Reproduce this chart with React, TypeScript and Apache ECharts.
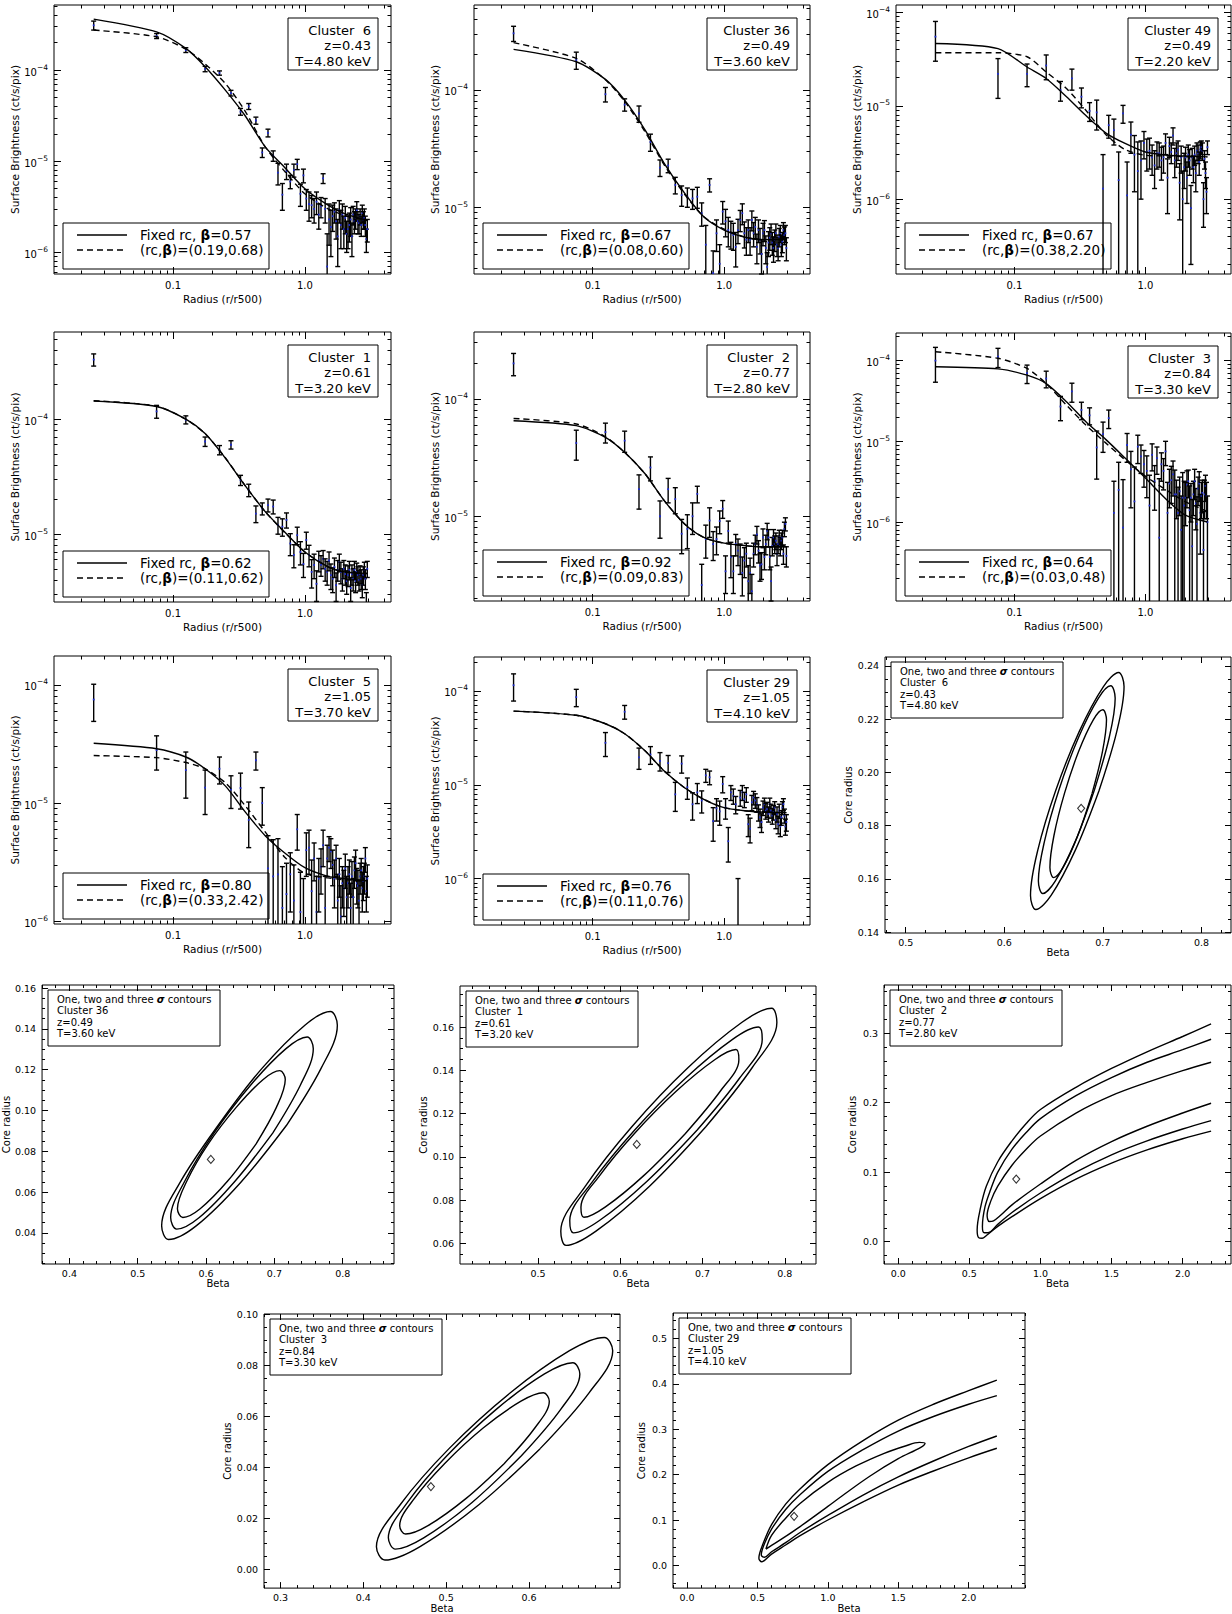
import React, { useEffect, useRef } from "react";
import * as echarts from "echarts";

const FONT = "'DejaVu Sans', 'Liberation Sans', Arial, sans-serif";

// ---------- surface brightness profiles (values in units of 1e-6 ct/s/pix) ----------
const RADII = [0.025,0.075,0.125,0.175,0.225,0.275,0.325,0.375,0.425,0.475,0.525,0.575,0.625,0.675,0.725,0.775,0.825,0.875,0.925,0.975,1.025,1.075,1.125,1.175,1.225,1.275,1.325,1.375,1.425,1.475,1.525,1.575,1.625,1.675,1.725,1.775,1.825,1.875,1.925,1.975,2.025,2.075,2.125,2.175,2.225,2.275,2.325,2.375,2.425,2.475,2.525,2.575,2.625,2.675,2.725,2.775,2.825,2.875,2.925,2.975];
const MODEL_R = [0.025,0.075,0.125,0.175,0.25,0.35,0.5,0.7,1.0,1.5,2.0,2.975];
const SB_X_RANGE = [0.0125, 4.5];

const C6_SB = [310,237,166,103,93,56,35,40,28,12.5,20.5,11.5,7.5,4.3,7.8,6.0,8.0,9.3,4.4,7.0,3.9,3.4,3.3,3.0,3.6,2.6,3.2,6.5,3.0,0.7,2.3,1.9,2.5,2.8,2.2,1.5,2.9,2.0,2.6,1.8,2.4,1.6,1.8,2.0,2.3,1.5,2.6,2.2,2.4,2.9,2.2,2.1,2.5,2.0,2.7,2.3,2.4,2.0,1.4,1.8];
const C6_ERR = [35,15,10,7,5,4,3,3,2.5,1.5,2,1.5,2,1.4,1.5,1,1.3,1.2,1.2,1.2,1.0,1.2,0.9,0.9,1.0,0.8,0.8,0.8,0.9,0.9,1.1,1.0,0.8,0.7,0.8,0.8,0.8,0.9,0.8,0.7,0.8,0.6,0.7,0.7,0.8,0.6,0.6,0.6,0.6,0.7,0.6,0.5,0.5,0.5,0.6,0.5,0.6,0.5,0.4,0.5];
const C6_FIXED = [363,263,173,109,60,32,14.4,8.6,5.0,3.3,2.66,2.24];
const C6_FREE = [275,232,170,117,71,36,14.4,7.8,4.4,3.0,2.55,2.24];

const C36_SB = [304,180,92,75,63,36,21.8,22.7,15.5,12.7,12.3,11.9,12.3,8.9,4.8,15.5,2.75,6.0,3.3,9.2,7.6,6.4,6.0,5.8,4.6,6.4,7.8,8.9,6.0,5.3,6.4,5.3,7.8,6.0,6.8,4.6,6.4,5.3,4.0,6.0,6.4,4.5,3.1,5.0,5.5,6.0,5.0,4.5,5.3,6.0,4.8,4.5,5.6,6.0,4.8,5.1,6.4,5.8,6.0,4.5];
const C36_ERR = [45,30,13,9,10,6,3.5,3,2.5,2.5,2.3,2.3,2.5,2,2.2,2,1.5,1.8,1.5,2,2,1.8,1.6,1.5,1.5,1.5,1.6,1.8,1.5,1.4,1.4,1.4,1.5,1.4,1.4,1.3,1.4,1.3,1.3,1.3,1.3,1.2,1.0,1.2,1.2,1.2,1.1,1.1,1.1,1.2,1.0,1.0,1.0,1.0,1.0,1.0,1.0,1.0,1.0,1.0];
const C36_FIXED = [222,174,123,82,45.7,23.7,13.2,8.3,6.4,5.5,5.3,5.3];
const C36_FREE = [253,186,122,80,44,23,12.9,8.3,6.5,5.5,5.3,5.3];

const C49_SB = [55,22,22,27,14.7,19.7,12.5,8.8,8.5,1.3,6.2,5.5,1.6,8.3,1.1,4.9,3.0,2.0,2.6,4.0,3.2,3.3,2.8,2.3,3.1,3.1,2.6,2.8,4.0,1.7,3.7,3.2,4.8,2.6,3.1,3.4,1.5,2.8,1.0,2.2,2.8,1.7,3.0,2.6,0.8,2.8,2.2,3.0,1.9,3.3,3.1,2.5,3.4,3.6,3.3,1.0,2.7,1.9,1.2,3.6];
const C49_ERR = [25,10,6,8,3.5,5,3,2,3,1.7,1.7,1.7,1.6,1.8,1.4,1.8,1.8,2.1,1.6,1.3,1.2,1.2,1.0,1.0,1.0,0.9,1.0,0.9,1.0,1.0,0.9,0.8,1.0,0.9,0.9,0.8,0.9,0.9,1.0,0.9,0.8,0.8,0.8,0.8,0.6,0.7,0.7,0.7,0.7,0.7,0.7,0.7,0.7,0.6,0.7,0.5,0.6,0.6,0.5,0.6];
const C49_FIXED = [46.5,41,26,19.6,12.5,7.9,5.1,3.95,3.2,2.95,2.9,2.84];
const C49_FREE = [37,37,33.5,23,15.3,9.0,4.9,3.4,2.95,2.9,2.85,2.84];

const C1_SB = [330,117,99,64,54,60,29.5,24.2,15.1,16.7,17.9,17.4,12,11.6,13.3,8.3,6.6,9.8,7.0,5.5,8.9,6.6,4.7,5.4,3.7,5.9,5.4,6.1,5.0,4.7,5.9,4.4,4.1,5.2,3.6,4.9,5.7,4.7,4.1,5.0,4.5,3.9,4.4,4.9,3.4,4.5,4.1,4.9,3.9,4.7,4.4,4.0,4.5,4.1,3.6,4.4,4.9,4.1,2.5,5.0];
const C1_ERR = [40,15,8,6,5,5,3,3,2.5,2,2.3,2.4,2,2,2,1.8,1.5,1.7,1.6,1.3,1.5,1.4,1.3,1.3,1.1,1.2,1.1,1.1,1.1,1.1,1.1,1.1,1.0,1.0,1.0,1.0,1.0,1.0,0.9,0.9,0.9,0.9,0.9,0.9,0.8,0.9,0.9,0.9,0.8,0.9,0.8,0.8,0.8,0.8,0.8,0.8,0.8,0.8,0.6,0.8];
const C1_FIXED = [144,129,100,75,45.7,26.7,15.7,10.5,7.0,5.2,4.7,4.55];
const C1_FREE = [145,130,100,75,46,26.7,15.7,10.4,7.0,5.2,4.7,4.55];

const C2_SB = [200,42,52,44,17,26,10,17,14,7.1,7.8,10,15.5,2.6,6.4,9.2,5.8,6.4,9.1,11.6,3.4,7.5,4.5,3.4,5.8,5.1,4.5,3.3,4.2,4.8,2.8,3.3,2.3,4.8,5.8,7.0,5.1,3.8,3.9,6.6,4.5,5.8,7.5,6.6,4.5,2.8,5.6,6.6,5.8,6.2,4.8,5.8,6.6,5.6,6.2,6.6,4.8,7.8,8.6,4.6];
const C2_ERR = [43,12,10,9,5.5,6,3.5,4,3.5,2.3,2.5,3,2.5,1.3,2,2.6,1.6,1.7,2,2,1.2,1.6,1.5,1.2,1.2,1.3,1.3,1.2,1.2,1.1,1.0,1.1,0.9,1.1,1.1,1.2,1.1,1.0,1.0,1.2,1.0,1.1,1.2,1.1,1.0,0.9,1.0,1.1,1.0,1.0,1.0,1.0,1.0,1.0,1.0,1.0,0.9,1.1,1.1,0.9];
const C2_FIXED = [65,59,47,35,23,13.6,8.6,6.6,5.9,5.6,5.5,5.5];
const C2_FREE = [68,61,47.5,35,23,13.6,8.6,6.6,5.9,5.6,5.5,5.5];

const C3_SB = [100,112,70,60,27,41.5,24.5,21,8.4,12.3,19.4,1.3,2.5,0.85,9.0,4.5,1.8,8.6,6.5,5.2,4.3,1.6,6.8,3.2,6.2,0.64,5.2,4.3,7.5,1.3,3.0,3.3,3.9,2.2,2.2,1.3,2.4,0.8,2.0,1.6,2.0,2.9,3.2,1.4,2.0,0.5,2.2,3.2,1.7,0.95,2.6,3.0,1.3,2.1,2.3,0.45,2.2,2.8,2.1,1.0];
const C3_ERR = [46,30,18,14,9,11,6,5,5,5,5,1.9,3.0,2.5,3.5,3,3,3.3,2.5,2.5,2.3,2.2,2.5,1.8,2.3,2.8,2,1.8,2.5,1.8,1.5,1.6,1.8,2.2,1.1,1.4,1.2,1.3,2.1,1.6,1.1,1.4,1.2,1.4,1.0,1.4,1.0,1.3,0.9,1.1,1.0,1.2,0.9,1.0,1.0,0.9,1.1,1.0,1.0,1.1];
const C3_FIXED = [84,79,66,52,31,17.6,10.5,6.2,3.5,1.8,1.23,1.0];
const C3_FREE = [129,107,80,52,28,16,9.5,5.9,3.7,2.4,1.8,1.35];

const C5_SB = [75,28,19,13.5,19.5,13,13.4,7.2,23,10,2.8,2.4,2.5,1.3,1.7,2.5,1.5,6.0,1.2,0.9,4.0,4.2,1.8,3.4,1.2,2.3,2.9,4.4,1.3,3.4,4.2,3.9,3.0,2.3,3.4,1.5,2.5,1.1,2.1,1.9,2.8,1.6,2.1,2.5,1.3,2.4,1.6,2.7,3.1,2.1,2.0,1.5,2.4,2.7,1.9,2.2,2.4,3.4,1.8,2.3];
const C5_ERR = [26,9,8,5.5,5,4,4.5,3,4,3.5,2.5,2.5,2.5,1.6,1.4,1.3,1.5,2.0,1.4,1.4,1.6,1.7,1.5,1.2,1.2,1.1,1.2,1.5,1.1,1.0,1.0,1.1,1.0,1.0,1.0,1.0,0.9,0.9,0.8,0.8,0.9,0.8,0.8,0.8,0.8,0.8,0.7,0.8,0.9,0.7,0.7,0.7,0.7,0.7,0.7,0.7,0.7,0.8,0.6,0.7];
const C5_FIXED = [32,28.8,24.5,19.5,13.9,8.5,5.3,3.8,2.84,2.4,2.3,2.2];
const C5_FREE = [25.2,24.2,22,19.5,14.8,9.6,5.7,3.5,2.54,2.33,2.25,2.2];

const C29_SB = [115,86,28,60,19.6,21,18,17,7.9,16.8,9.4,6.2,8.3,6.8,12.6,12,4.1,5.6,5.2,10.2,5.7,2.5,8.3,7.6,6.2,0.3,7.3,8.3,7.0,7.9,3.8,3.4,6.5,7.3,6.8,6.2,5.1,4.5,4.0,5.7,6.2,5.3,5.5,4.9,6.2,5.3,4.7,5.1,5.7,4.2,4.9,3.8,5.3,3.6,4.5,5.7,6.2,4.7,3.6,4.0];
const C29_ERR = [37,18,8,10,5,4.5,4,3.5,2.7,3.5,2.4,2,2,1.8,2,2,1.6,1.5,1.5,2,1.4,1.0,1.5,1.4,1.3,0.7,1.4,1.5,1.3,1.4,1.0,1.0,1.2,1.2,1.2,1.1,1.0,1.0,0.9,1.0,1.0,1.0,1.0,0.9,1.0,0.9,0.9,0.9,0.9,0.8,0.9,0.8,0.9,0.8,0.8,0.9,0.9,0.8,0.7,0.8];
const C29_FIXED = [61,55,44.7,35,23,14,9.3,7.0,5.7,5.25,5.1,5.05];
const C29_FREE = [61,55,44.7,35,23,14,9.3,7.0,5.7,5.25,5.1,5.05];

const SB_PANELS = [
  { cl: "Cluster  6", z: "0.43", T: "4.80", fb: "0.57", rb: "(0.19,0.68)", sb: C6_SB, err: C6_ERR, fixed: C6_FIXED, free: C6_FREE, y: [5.8e-7, 5.18e-4], box: [54, 5, 337, 269] },
  { cl: "Cluster 36", z: "0.49", T: "3.60", fb: "0.67", rb: "(0.08,0.60)", sb: C36_SB, err: C36_ERR, fixed: C36_FIXED, free: C36_FREE, y: [2.7e-6, 5.3e-4], box: [474, 5, 336, 269] },
  { cl: "Cluster 49", z: "0.49", T: "2.20", fb: "0.67", rb: "(0.38,2.20)", sb: C49_SB, err: C49_ERR, fixed: C49_FIXED, free: C49_FREE, y: [1.58e-7, 1.2e-4], box: [896, 5, 335, 269] },
  { cl: "Cluster  1", z: "0.61", T: "3.20", fb: "0.62", rb: "(0.11,0.62)", sb: C1_SB, err: C1_ERR, fixed: C1_FIXED, free: C1_FREE, y: [2.57e-6, 5.74e-4], box: [54, 332, 337, 270] },
  { cl: "Cluster  2", z: "0.77", T: "2.80", fb: "0.92", rb: "(0.09,0.83)", sb: C2_SB, err: C2_ERR, fixed: C2_FIXED, free: C2_FREE, y: [1.9e-6, 3.7e-4], box: [474, 332, 336, 269] },
  { cl: "Cluster  3", z: "0.84", T: "3.30", fb: "0.64", rb: "(0.03,0.48)", sb: C3_SB, err: C3_ERR, fixed: C3_FIXED, free: C3_FREE, y: [1.05e-7, 2.2e-4], box: [896, 333, 335, 268] },
  { cl: "Cluster  5", z: "1.05", T: "3.70", fb: "0.80", rb: "(0.33,2.42)", sb: C5_SB, err: C5_ERR, fixed: C5_FIXED, free: C5_FREE, y: [9.5e-7, 1.75e-4], box: [54, 656, 337, 268] },
  { cl: "Cluster 29", z: "1.05", T: "4.10", fb: "0.76", rb: "(0.11,0.76)", sb: C29_SB, err: C29_ERR, fixed: C29_FIXED, free: C29_FREE, y: [3.2e-7, 2.3e-4], box: [474, 657, 336, 268] },
];

// ---------- confidence contours [beta, core radius] ----------
const CT6_3S = [[0.696,0.193],[0.7141,0.2153],[0.7215,0.2322],[0.716,0.2375],[0.7006,0.2322],[0.676,0.2153],[0.652,0.193],[0.634,0.1708],[0.6266,0.1538],[0.632,0.1485],[0.6475,0.1538],[0.6721,0.1708],[0.696,0.193]];
const CT6_2S = [[0.6915,0.1935],[0.7064,0.213],[0.7125,0.2278],[0.708,0.2325],[0.6954,0.2278],[0.6752,0.213],[0.6555,0.1935],[0.6407,0.174],[0.6346,0.1592],[0.639,0.1545],[0.6517,0.1592],[0.6719,0.174],[0.6915,0.1935]];
const CT6_1S = [[0.689,0.192],[0.6996,0.2078],[0.7037,0.2197],[0.7,0.2235],[0.6903,0.2197],[0.6754,0.2078],[0.661,0.192],[0.6504,0.1763],[0.6463,0.1643],[0.65,0.1605],[0.6597,0.1643],[0.6746,0.1763],[0.689,0.192]];
const CT6_BEST = [0.678, 0.1865];

const CT36_3S = [[0.7175,0.0926],[0.7681,0.1205],[0.7921,0.1418],[0.782,0.1485],[0.7446,0.1418],[0.6815,0.1205],[0.6175,0.0926],[0.562,0.0647],[0.535,0.0434],[0.545,0.0367],[0.5855,0.0434],[0.6506,0.0647],[0.7175,0.0926]];
const CT36_2S = [[0.6975,0.0889],[0.7381,0.1125],[0.7569,0.1303],[0.748,0.136],[0.717,0.1303],[0.6654,0.1125],[0.6115,0.0889],[0.5689,0.0654],[0.5482,0.0475],[0.557,0.0418],[0.5901,0.0475],[0.6426,0.0654],[0.6975,0.0889]];
const CT36_1S = [[0.673,0.0835],[0.7029,0.1015],[0.7159,0.1152],[0.708,0.1195],[0.6836,0.1152],[0.6441,0.1015],[0.603,0.0835],[0.5721,0.0655],[0.5581,0.0518],[0.566,0.0475],[0.5914,0.0518],[0.6319,0.0655],[0.673,0.0835]];
const CT36_BEST = [0.607, 0.076];

const CT1_3S = [[0.704,0.1139],[0.7605,0.1413],[0.7904,0.1621],[0.784,0.1687],[0.7476,0.1621],[0.6825,0.1413],[0.614,0.1139],[0.5575,0.0864],[0.5276,0.0656],[0.534,0.059],[0.5704,0.0656],[0.6355,0.0864],[0.704,0.1139]];
const CT1_2S = [[0.6935,0.1124],[0.7447,0.1362],[0.7726,0.1543],[0.768,0.16],[0.7365,0.1543],[0.6789,0.1362],[0.6175,0.1124],[0.5664,0.0886],[0.5385,0.0705],[0.543,0.0648],[0.5746,0.0705],[0.6322,0.0886],[0.6935,0.1124]];
const CT1_1S = [[0.6792,0.1108],[0.7213,0.1302],[0.7442,0.1449],[0.7406,0.1496],[0.7148,0.1449],[0.6676,0.1302],[0.6172,0.1108],[0.5751,0.0914],[0.5521,0.0767],[0.5557,0.072],[0.5815,0.0767],[0.6288,0.0914],[0.6792,0.1108]];
const CT1_BEST = [0.62, 0.1057];

const CT2_3S = [[2.2,0.313],[2.0,0.295],[1.75,0.273],[1.5,0.249],[1.25,0.222],[1.0,0.19],[0.9,0.17],[0.8,0.145],[0.7,0.115],[0.62,0.08],[0.58,0.05],[0.555,0.017],[0.565,0.006],[0.59,0.005],[0.62,0.009],[0.7,0.022],[0.8,0.036],[1.0,0.062],[1.25,0.09],[1.5,0.113],[1.75,0.132],[2.0,0.148],[2.2,0.159]];
const CT2_2S = [[2.2,0.291],[2.0,0.276],[1.75,0.258],[1.5,0.236],[1.25,0.21],[1.0,0.177],[0.9,0.157],[0.8,0.133],[0.7,0.1],[0.65,0.075],[0.61,0.05],[0.592,0.022],[0.605,0.013],[0.63,0.013],[0.7,0.025],[0.8,0.042],[1.0,0.07],[1.25,0.1],[1.5,0.125],[1.75,0.145],[2.0,0.162],[2.2,0.174]];
const CT2_1S = [[2.2,0.258],[2.0,0.246],[1.75,0.229],[1.5,0.21],[1.25,0.185],[1.0,0.152],[0.9,0.133],[0.8,0.11],[0.7,0.08],[0.65,0.058],[0.625,0.038],[0.64,0.029],[0.67,0.03],[0.72,0.038],[0.8,0.053],[1.0,0.083],[1.25,0.117],[1.5,0.144],[1.75,0.166],[2.0,0.185],[2.2,0.199]];
const CT2_BEST = [0.83, 0.09];

const CT3_3S = [[0.6135,0.0473],[0.6724,0.0691],[0.7012,0.0857],[0.691,0.0909],[0.649,0.0857],[0.5772,0.0691],[0.5035,0.0473],[0.4447,0.0254],[0.4158,0.0088],[0.426,0.0036],[0.468,0.0088],[0.5399,0.0254],[0.6135,0.0473]];
const CT3_2S = [[0.5909,0.0445],[0.6384,0.0627],[0.6615,0.0766],[0.653,0.081],[0.6188,0.0766],[0.5605,0.0627],[0.5009,0.0445],[0.4533,0.0262],[0.4302,0.0123],[0.4387,0.0079],[0.4729,0.0123],[0.5313,0.0262],[0.5909,0.0445]];
const CT3_1S = [[0.5703,0.0415],[0.6071,0.0554],[0.6246,0.0659],[0.6175,0.0692],[0.5904,0.0659],[0.5447,0.0554],[0.4983,0.0415],[0.4615,0.0277],[0.4439,0.0171],[0.451,0.0138],[0.4781,0.0171],[0.5238,0.0277],[0.5703,0.0415]];
const CT3_BEST = [0.4816, 0.0324];

const CT29_3S = [[2.2,0.408],[2.0,0.385],[1.75,0.355],[1.5,0.32],[1.25,0.275],[1.0,0.222],[0.8,0.168],[0.7,0.135],[0.6,0.09],[0.54,0.048],[0.51,0.016],[0.53,0.008],[0.6,0.025],[0.7,0.045],[0.8,0.065],[1.0,0.1],[1.25,0.14],[1.5,0.177],[1.75,0.208],[2.0,0.237],[2.2,0.258]];
const CT29_2S = [[2.2,0.374],[2.0,0.355],[1.75,0.328],[1.5,0.296],[1.25,0.255],[1.0,0.207],[0.8,0.155],[0.7,0.123],[0.6,0.08],[0.55,0.048],[0.527,0.023],[0.55,0.018],[0.6,0.03],[0.7,0.05],[0.8,0.072],[1.0,0.11],[1.25,0.155],[1.5,0.195],[1.75,0.23],[2.0,0.262],[2.2,0.285]];
const CT29_1S = [[0.56,0.036],[0.6,0.066],[0.7,0.104],[0.8,0.136],[1.0,0.183],[1.2,0.219],[1.4,0.247],[1.55,0.263],[1.65,0.271],[1.69,0.269],[1.66,0.26],[1.5,0.235],[1.3,0.197],[1.1,0.153],[1.0,0.13],[0.8,0.085],[0.7,0.064],[0.6,0.044],[0.56,0.036]];
const CT29_BEST = [0.76, 0.108];

const CT_PANELS = [
  { cl: "Cluster  6", z: "0.43", T: "4.80", curves: [CT6_1S, CT6_2S, CT6_3S], best: CT6_BEST, x: [0.479, 0.83], y: [0.1397, 0.2433], xMaj: [0.5,0.6,0.7,0.8], yMaj: [0.14,0.16,0.18,0.2,0.22,0.24], xStep: 0.02, yStep: 0.005, xd: 1, yd: 2, box: [885, 657, 346, 276] },
  { cl: "Cluster 36", z: "0.49", T: "3.60", curves: [CT36_1S, CT36_2S, CT36_3S], best: CT36_BEST, x: [0.36, 0.875], y: [0.0247, 0.1615], xMaj: [0.4,0.5,0.6,0.7,0.8], yMaj: [0.04,0.06,0.08,0.1,0.12,0.14,0.16], xStep: 0.02, yStep: 0.005, xd: 1, yd: 2, box: [42, 985, 352, 279] },
  { cl: "Cluster  1", z: "0.61", T: "3.20", curves: [CT1_1S, CT1_2S, CT1_3S], best: CT1_BEST, x: [0.405, 0.838], y: [0.0504, 0.179], xMaj: [0.5,0.6,0.7,0.8], yMaj: [0.06,0.08,0.1,0.12,0.14,0.16], xStep: 0.02, yStep: 0.005, xd: 1, yd: 2, box: [460, 986, 356, 278] },
  { cl: "Cluster  2", z: "0.77", T: "2.80", curves: [CT2_1S, CT2_2S, CT2_3S], best: CT2_BEST, x: [-0.1, 2.34], y: [-0.032, 0.369], xMaj: [0,0.5,1,1.5,2], yMaj: [0,0.1,0.2,0.3], xStep: 0.1, yStep: 0.02, xd: 1, yd: 1, box: [884, 985, 347, 279] },
  { cl: "Cluster  3", z: "0.84", T: "3.30", curves: [CT3_1S, CT3_2S, CT3_3S], best: CT3_BEST, x: [0.28, 0.71], y: [-0.0074, 0.1001], xMaj: [0.3,0.4,0.5,0.6], yMaj: [0,0.02,0.04,0.06,0.08,0.1], xStep: 0.02, yStep: 0.005, xd: 1, yd: 2, box: [264, 1314, 356, 280] },
  { cl: "Cluster 29", z: "1.05", T: "4.10", curves: [CT29_1S, CT29_2S, CT29_3S], best: CT29_BEST, x: [-0.1, 2.4], y: [-0.05, 0.556], xMaj: [0,0.5,1,1.5,2], yMaj: [0,0.1,0.2,0.3,0.4,0.5], xStep: 0.1, yStep: 0.02, xd: 1, yd: 1, box: [673, 1313, 352, 280] },
];

// ---------- helpers ----------
const L = Math.log10;

function logTicks(min: number, max: number) {
  const major: number[] = [], minor: number[] = [];
  for (let n = Math.floor(L(min)) - 1; n <= Math.ceil(L(max)); n++) {
    for (let k = 1; k <= 9; k++) {
      const v = k * Math.pow(10, n);
      if (v < min || v > max) continue;
      (k === 1 ? major : minor).push(L(v));
    }
  }
  return { major, minor };
}
function linTicks(min: number, max: number, step: number) {
  const out: number[] = [];
  const k0 = Math.ceil(min / step - 1e-9), k1 = Math.floor(max / step + 1e-9);
  for (let k = k0; k <= k1; k++) out.push(+(k * step).toFixed(6));
  return out;
}

function errRender(params: any, api: any) {
  const cs = params.coordSys;
  const top = cs.y, bot = cs.y + cs.height;
  const x = api.value(0);
  const pc = api.coord([x, api.value(1)]);
  const ph = api.coord([x, api.value(2)]);
  const pl = api.coord([x, api.value(3)]);
  const px = pc[0];
  const y1 = Math.max(top, ph[1]);
  const y2 = Math.min(bot, pl[1]);
  const st = { stroke: "#000", lineWidth: 1.4 };
  const ch: any[] = [];
  if (y2 > y1) ch.push({ type: "line", shape: { x1: px, y1, x2: px, y2 }, style: st });
  if (ph[1] >= top && ph[1] <= bot) ch.push({ type: "line", shape: { x1: px - 2.5, y1: ph[1], x2: px + 2.5, y2: ph[1] }, style: st });
  if (pl[1] <= bot && pl[1] >= top) ch.push({ type: "line", shape: { x1: px - 2.5, y1: pl[1], x2: px + 2.5, y2: pl[1] }, style: st });
  if (pc[1] >= top && pc[1] <= bot) ch.push({ type: "rect", shape: { x: px - 0.9, y: pc[1] - 0.9, width: 1.8, height: 1.8 }, style: { fill: "#1d2bd0" } });
  return { type: "group", children: ch };
}

function buildOption() {
  const grid: any[] = [], xAxis: any[] = [], yAxis: any[] = [], series: any[] = [], elements: any[] = [];

  const pushAxes = (arr: any[], pos: [string, string], gridIndex: number, min: number, max: number, major: number[], minor: number[], label: any, name: string, nameFs: number, nameGap: number, majLen: number, minLen: number) => {
    const common = { type: "value", gridIndex, min, max, splitLine: { show: false }, splitArea: { show: false }, axisLine: { show: false, onZero: false }, axisPointer: { show: false }, silent: true };
    const tick = (vals: number[], len: number) => ({ show: true, inside: true, length: len, customValues: vals, lineStyle: { color: "#000", width: 1 } });
    arr.push({ ...common, position: pos[0], axisTick: tick(major, majLen), axisLabel: { show: true, customValues: major, color: "#000", fontFamily: FONT, ...label }, name, nameLocation: "middle", nameGap, nameTextStyle: { color: "#000", fontSize: nameFs, fontFamily: FONT } });
    arr.push({ ...common, position: pos[0], axisTick: tick(minor, minLen), axisLabel: { show: false } });
    arr.push({ ...common, position: pos[1], axisTick: tick(major, majLen), axisLabel: { show: false } });
    arr.push({ ...common, position: pos[1], axisTick: tick(minor, minLen), axisLabel: { show: false } });
  };

  let gi = 0;
  const xt = logTicks(SB_X_RANGE[0], SB_X_RANGE[1]);
  SB_PANELS.forEach((p) => {
    const [l, t, w, h] = p.box;
    grid.push({ left: l, top: t, width: w, height: h, show: true, borderColor: "#000", borderWidth: 1, backgroundColor: "transparent" });
    pushAxes(xAxis, ["bottom", "top"], gi, L(SB_X_RANGE[0]), L(SB_X_RANGE[1]), xt.major, xt.minor,
      { fontSize: 10, margin: 6, formatter: (v: number) => (Math.abs(v + 1) < 1e-6 ? "0.1" : Math.abs(v) < 1e-6 ? "1.0" : "") },
      "Radius (r/r500)", 10.5, 19, 7, 3.5);
    const yt = logTicks(p.y[0], p.y[1]);
    pushAxes(yAxis, ["left", "right"], gi, L(p.y[0]), L(p.y[1]), yt.major, yt.minor,
      { margin: 6, formatter: (v: number) => "{b|10}{s|\u2212" + String(Math.abs(Math.round(v))) + "}", rich: { b: { fontSize: 10, fontFamily: FONT, color: "#000", lineHeight: 14, verticalAlign: "bottom" }, s: { fontSize: 7.5, fontFamily: FONT, color: "#000", lineHeight: 9, verticalAlign: "top" } } },
      "Surface Brightness (ct/s/pix)", 10.5, 30, 7, 3.5);
    const ai = gi * 4;
    series.push({
      type: "custom", xAxisIndex: ai, yAxisIndex: ai, renderItem: errRender, encode: { x: 0, y: 1 }, silent: true, z: 3,
      data: RADII.map((r, i) => {
        const v = p.sb[i] * 1e-6, e = p.err[i] * 1e-6;
        return [L(r), L(v), L(v + e), v - e > 0 ? L(v - e) : -20];
      }),
    });
    series.push({ type: "line", xAxisIndex: ai, yAxisIndex: ai, data: MODEL_R.map((r, i) => [L(r), L(p.fixed[i] * 1e-6)]), symbol: "none", smooth: 0.25, lineStyle: { color: "#000", width: 1.4 }, silent: true, z: 4 });
    series.push({ type: "line", xAxisIndex: ai, yAxisIndex: ai, data: MODEL_R.map((r, i) => [L(r), L(p.free[i] * 1e-6)]), symbol: "none", smooth: 0.25, lineStyle: { color: "#000", width: 1.4, type: [6, 4] }, silent: true, z: 4 });

    // cluster info box
    const bw = 90, bh = 52, bx = l + w - 13 - bw, by = t + 13;
    elements.push({ type: "rect", shape: { x: bx, y: by, width: bw, height: bh }, style: { fill: "none", stroke: "#000", lineWidth: 1 }, z: 10 });
    [p.cl, "z=" + p.z, "T=" + p.T + " keV"].forEach((s, k) => {
      elements.push({ type: "text", x: bx + bw - 7, y: by + 12 + k * 15.5, style: { text: s, fill: "#000", fontSize: 13, fontFamily: FONT, align: "right", verticalAlign: "middle", textAlign: "right", textVerticalAlign: "middle" }, z: 11 });
    });
    // line legend box
    const lx = l + 9, ly = t + h - 51;
    elements.push({ type: "rect", shape: { x: lx, y: ly, width: 206, height: 46 }, style: { fill: "none", stroke: "#000", lineWidth: 1 }, z: 10 });
    elements.push({ type: "line", shape: { x1: lx + 14, y1: ly + 12, x2: lx + 64, y2: ly + 12 }, style: { stroke: "#000", lineWidth: 1.3 }, z: 11 });
    elements.push({ type: "line", shape: { x1: lx + 14, y1: ly + 27, x2: lx + 64, y2: ly + 27 }, style: { stroke: "#000", lineWidth: 1.3, lineDash: [6, 4] }, z: 11 });
    const rich = { b: { fontWeight: "bold", fontSize: 13.5, fontFamily: FONT, fill: "#000" } };
    elements.push({ type: "text", x: lx + 77, y: ly + 12, style: { text: "Fixed rc, {b|\u03B2}=" + p.fb, rich, fill: "#000", fontSize: 13.5, fontFamily: FONT, verticalAlign: "middle", textVerticalAlign: "middle" }, z: 11 });
    elements.push({ type: "text", x: lx + 77, y: ly + 27, style: { text: "(rc,{b|\u03B2})=" + p.rb, rich, fill: "#000", fontSize: 13.5, fontFamily: FONT, verticalAlign: "middle", textVerticalAlign: "middle" }, z: 11 });
    gi++;
  });

  CT_PANELS.forEach((p) => {
    const [l, t, w, h] = p.box;
    grid.push({ left: l, top: t, width: w, height: h, show: true, borderColor: "#000", borderWidth: 1, backgroundColor: "transparent" });
    pushAxes(xAxis, ["bottom", "top"], gi, p.x[0], p.x[1], p.xMaj, linTicks(p.x[0], p.x[1], p.xStep),
      { fontSize: 9.5, margin: 4, formatter: (v: number) => v.toFixed(p.xd) }, "Beta", 10, 11, 6, 3);
    pushAxes(yAxis, ["left", "right"], gi, p.y[0], p.y[1], p.yMaj, linTicks(p.y[0], p.y[1], p.yStep),
      { fontSize: 9.5, margin: 6, formatter: (v: number) => v.toFixed(p.yd) }, "Core radius", 10, 27, 6, 3);
    const ai = gi * 4;
    p.curves.forEach((c) => {
      series.push({ type: "line", xAxisIndex: ai, yAxisIndex: ai, data: c, symbol: "none", smooth: 0.35, lineStyle: { color: "#000", width: 1.4 }, silent: true, z: 4 });
    });
    series.push({ type: "scatter", xAxisIndex: ai, yAxisIndex: ai, data: [p.best], symbol: "diamond", symbolSize: [7, 8], itemStyle: { color: "#fff", borderColor: "#000", borderWidth: 1.1 }, silent: true, z: 5 });
    const bx = l + 6, by = t + 5, bw = 172, bh = 56;
    elements.push({ type: "rect", shape: { x: bx, y: by, width: bw, height: bh }, style: { fill: "none", stroke: "#000", lineWidth: 1 }, z: 10 });
    const rich = { s: { fontWeight: "bold", fontStyle: "italic", fontSize: 10, fontFamily: FONT, fill: "#000" } };
    ["One, two and three {s|\u03C3} contours", p.cl, "z=" + p.z, "T=" + p.T + " keV"].forEach((s, k) => {
      elements.push({ type: "text", x: bx + 9, y: by + 9 + k * 11.5, style: { text: s, rich, fill: "#000", fontSize: 10, fontFamily: FONT, verticalAlign: "middle", textVerticalAlign: "middle" }, z: 11 });
    });
    gi++;
  });

  return { animation: false, backgroundColor: "#fff", grid, xAxis, yAxis, series, graphic: { elements } };
}

export default function App() {
  const ref = useRef<HTMLDivElement>(null);
  useEffect(() => {
    if (!ref.current) return;
    const chart = echarts.init(ref.current, null, { renderer: "svg", width: 1232, height: 1614 });
    chart.setOption(buildOption() as any);
    return () => chart.dispose();
  }, []);
  return <div ref={ref} style={{ position: "fixed", left: 0, top: 0, width: 1232, height: 1614, background: "#fff" }} />;
}
